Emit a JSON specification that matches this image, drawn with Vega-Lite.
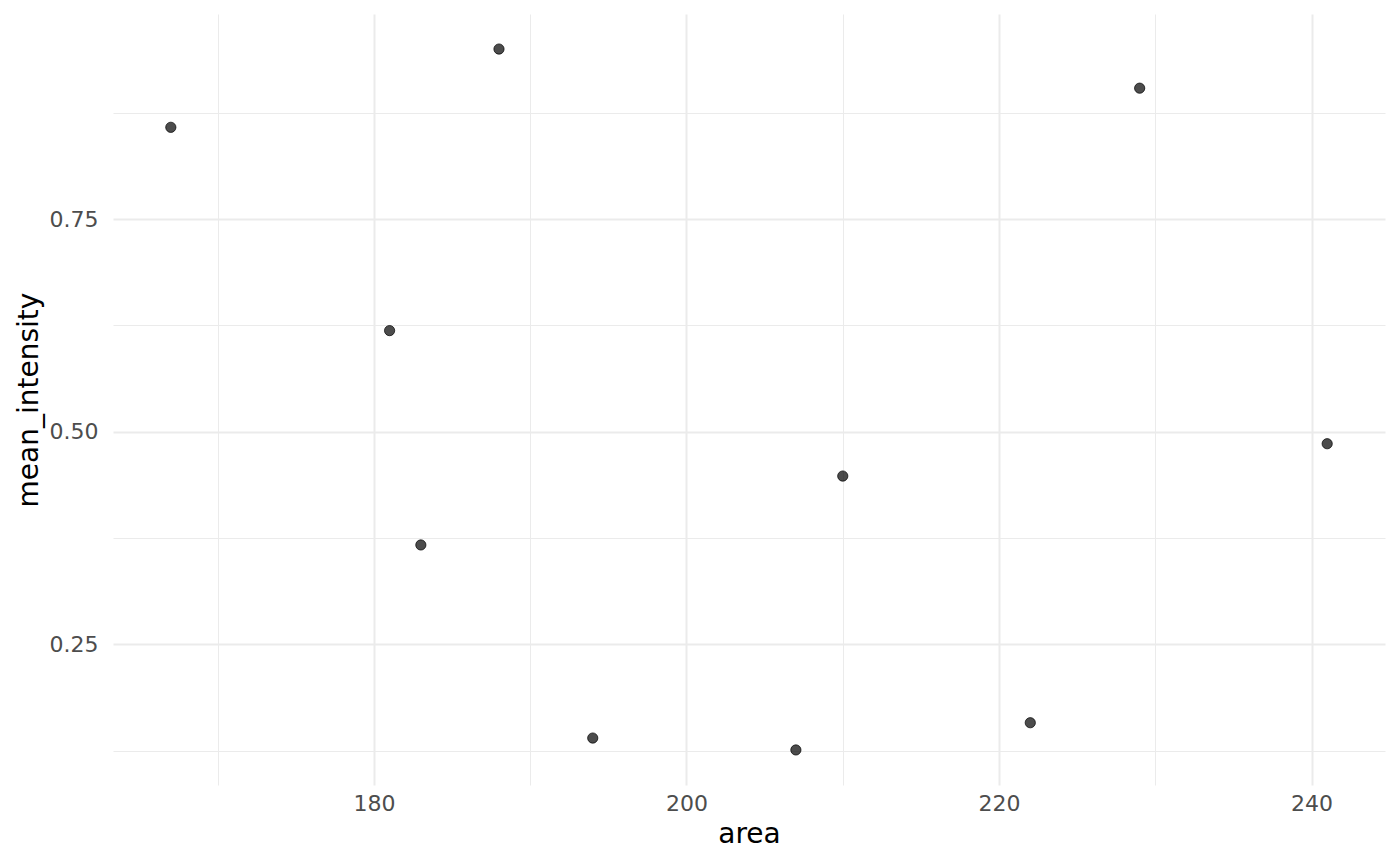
{
  "$schema": "https://vega.github.io/schema/vega-lite/v6.json",
  "autosize": "none",
  "width": 1272,
  "height": 771,
  "padding": {"left": 113, "top": 14, "right": 15, "bottom": 81},
  "background": "white",
  "data": {
    "values": [
      {"area": 167, "mean_intensity": 0.858},
      {"area": 188, "mean_intensity": 0.950},
      {"area": 181, "mean_intensity": 0.619},
      {"area": 183, "mean_intensity": 0.367},
      {"area": 194, "mean_intensity": 0.140},
      {"area": 207, "mean_intensity": 0.126},
      {"area": 210, "mean_intensity": 0.448},
      {"area": 222, "mean_intensity": 0.158},
      {"area": 229, "mean_intensity": 0.904},
      {"area": 241, "mean_intensity": 0.486}
    ]
  },
  "mark": {
    "type": "point",
    "shape": "circle",
    "filled": true,
    "size": 105,
    "fill": "black",
    "fillOpacity": 0.7,
    "stroke": "black",
    "strokeWidth": 1,
    "strokeOpacity": 0.7
  },
  "encoding": {
    "x": {
      "field": "area",
      "type": "quantitative",
      "scale": {"domain": [163.3, 244.7], "zero": false, "nice": false},
      "axis": {
        "values": [170, 180, 190, 200, 210, 220, 230, 240],
        "labelExpr": "datum.value % 20 == 0 ? datum.label : ''",
        "gridWidth": {"condition": {"test": "datum.value % 20 == 0", "value": 2}, "value": 1},
        "labelPadding": 8,
        "titlePadding": 6
      }
    },
    "y": {
      "field": "mean_intensity",
      "type": "quantitative",
      "scale": {"domain": [0.0848, 0.9912], "zero": false, "nice": false},
      "axis": {
        "values": [0.125, 0.25, 0.375, 0.5, 0.625, 0.75, 0.875],
        "format": ".2f",
        "labelExpr": "(datum.value * 4) % 1 == 0 ? datum.label : ''",
        "gridWidth": {"condition": {"test": "(datum.value * 4) % 1 == 0", "value": 2}, "value": 1},
        "labelPadding": 15,
        "titlePadding": 6
      }
    }
  },
  "config": {
    "view": {"stroke": null},
    "font": "DejaVu Sans",
    "axis": {
      "domain": false,
      "ticks": false,
      "grid": true,
      "gridColor": "#EBEBEB",
      "labelFont": "DejaVu Sans",
      "labelFontSize": 22,
      "labelColor": "#4D4D4D",
      "titleFont": "DejaVu Sans",
      "titleFontSize": 28,
      "titleFontWeight": "normal",
      "titleColor": "black"
    }
  }
}
